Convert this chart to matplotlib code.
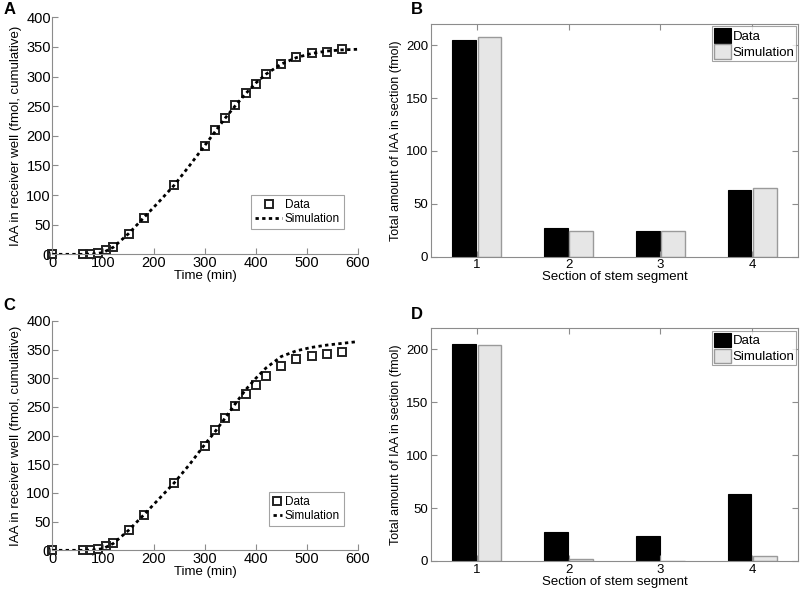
import matplotlib
matplotlib.use('Agg')
from matplotlib import pyplot as plt

plt.rcParams['font.family'] = ['Liberation Sans', 'DejaVu Sans']
plt.rcParams['font.size'] = 10.5

# measured time course (same in A and C)
t_data = [0, 60, 75, 90, 105, 120, 150, 180, 240, 300, 320, 340, 360, 380,
          400, 420, 450, 480, 510, 540, 570]
iaa_data = [0, 0, 0, 2, 7, 13, 35, 61, 117, 182, 209, 230, 252, 272,
            288, 304, 322, 333, 339, 342, 346]

# simulated curves
t_sim = [0, 60, 80, 100, 120, 150, 180, 210, 240, 270, 300, 320, 340, 360,
         380, 400, 420, 450, 480, 510, 540, 570, 600]
sim_a = [0, 0, 0.5, 3, 12, 35, 62, 89, 117, 150, 184, 207, 230, 251,
         271, 289, 304, 321, 332, 339, 343, 345, 346]
sim_c = [0, 0, 0.5, 3, 12, 35, 62, 90, 118, 150, 185, 207, 231, 256,
         280, 300, 318, 338, 348, 354, 358, 361, 364]

# amounts per stem section
sections = [1, 2, 3, 4]
sec_data = [205, 27, 24, 63]
sec_sim_b = [208, 24, 24, 65]
sec_sim_d = [204, 1.6, 0.3, 4.7]

grey = '#8c8c8c'
fig = plt.figure(figsize=(8, 5.92), dpi=100)


def time_panel(rect, sim, letter, letter_y, hlen):
    ax = fig.add_axes(rect)
    ax.plot(t_sim, sim, color='black', linestyle=(0, (1.2, 1.2)), linewidth=2,
            label='Simulation', zorder=3)
    ax.plot(t_data, iaa_data, linestyle='none', marker='s', markersize=5.5,
            markerfacecolor='none', markeredgecolor='#222222', markeredgewidth=1.4,
            label='Data', zorder=2, clip_on=False)
    ax.set_xlim(0, 600)
    ax.set_ylim(0, 400)
    ax.set_xticks(range(0, 601, 100))
    ax.set_yticks(range(0, 401, 50))
    ax.spines['top'].set_visible(False)
    ax.spines['right'].set_visible(False)
    for s in ('left', 'bottom'):
        ax.spines[s].set_color(grey)
    ax.tick_params(direction='in', color=grey, length=4, pad=1, labelsize=10.5)
    ax.set_xlabel('Time (min)', fontsize=9.5, labelpad=0.5)
    ax.set_ylabel('IAA in receiver well (fmol, cumulative)', fontsize=9.5,
                  labelpad=3)
    h, l = ax.get_legend_handles_labels()
    leg = ax.legend(h[::-1], l[::-1], loc='lower right', bbox_to_anchor=(0.955, 0.105),
                    fancybox=False, edgecolor=grey, fontsize=8.5, handlelength=hlen,
                    handletextpad=0.2, borderpad=0.35, labelspacing=0.2,
                    borderaxespad=0)
    leg.get_frame().set_linewidth(0.8)
    fig.text(0.004, letter_y, letter, fontsize=12, fontweight='bold', va='top')
    return ax


def bar_panel(rect, sim, letter, letter_y):
    ax = fig.add_axes(rect)
    xs = list(sections)
    ax.bar([x - 0.14 for x in xs], sec_data, width=0.26, color='black',
           edgecolor='black', linewidth=0.8, label='Data')
    ax.bar([x + 0.14 for x in xs], sim, width=0.26, color='#e6e6e6',
           edgecolor='#9a9a9a', linewidth=1.0, label='Simulation')
    ax.set_xlim(0.5, 4.5)
    ax.set_ylim(0, 220)
    ax.set_xticks(xs)
    ax.set_yticks(range(0, 201, 50))
    for s in ax.spines.values():
        s.set_color(grey)
    ax.tick_params(direction='in', color=grey, length=4, pad=2,
                   right=True, top=True, labelsize=9.5)
    ax.set_xlabel('Section of stem segment', fontsize=9.5, labelpad=0)
    ax.set_ylabel('Total amount of IAA in section (fmol)', fontsize=9,
                  labelpad=3)
    leg = ax.legend(loc='upper right', bbox_to_anchor=(0.995, 0.99), fancybox=False,
                    edgecolor=grey, fontsize=9.5, handlelength=1.3, handleheight=1.3,
                    handletextpad=0.1, borderpad=0.15, labelspacing=0.1,
                    borderaxespad=0)
    leg.get_frame().set_linewidth(0.8)
    fig.text(0.513, letter_y, letter, fontsize=12, fontweight='bold', va='top')
    return ax


time_panel([0.0654, 0.5704, 0.3815, 0.4004], sim_a, 'A', 0.997, 2.3)
bar_panel([0.5384, 0.5664, 0.4595, 0.3931], sec_sim_b, 'B', 0.997)
time_panel([0.0654, 0.0704, 0.3815, 0.3874], sim_c, 'C', 0.497, 0.8)
bar_panel([0.5384, 0.0524, 0.4595, 0.3931], sec_sim_d, 'D', 0.481)

fig.savefig('out.png', dpi=100)
